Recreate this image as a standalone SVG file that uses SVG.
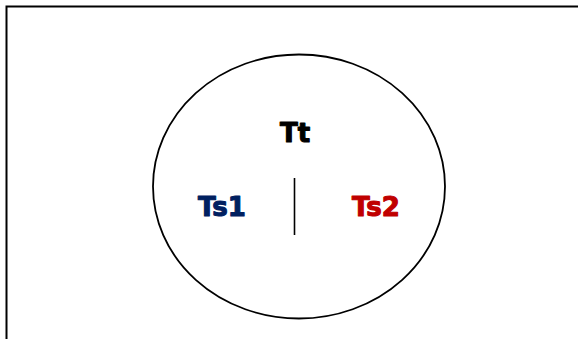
<svg xmlns="http://www.w3.org/2000/svg" width="578" height="339" viewBox="0 0 578 339">
<style>
.lbl{font-family:"DejaVu Sans","Liberation Sans",sans-serif;font-weight:bold;font-size:26px;stroke-width:1.1px;stroke-linejoin:round}
</style>
<rect x="0" y="0" width="578" height="339" fill="#fff"/>
<rect x="6.5" y="6.5" width="600" height="360" fill="none" stroke="#000" stroke-width="2"/>
<g id="ellipse">
<ellipse cx="299" cy="186.5" rx="146" ry="132" fill="none" stroke="#000" stroke-width="1.8"/>
</g>
<g id="tt"><text class="lbl" x="280" y="142" fill="#000" stroke="#000">Tt</text></g>
<g id="ts1"><text class="lbl" x="198" y="216" fill="#002060" stroke="#002060">Ts1</text></g>
<g id="ts2"><text class="lbl" x="352" y="216" fill="#C00000" stroke="#C00000">Ts2</text></g>
<g id="connectors">
<line x1="294.5" y1="178" x2="294.5" y2="235" stroke="#000" stroke-width="1.6"/>
</g>
</svg>
